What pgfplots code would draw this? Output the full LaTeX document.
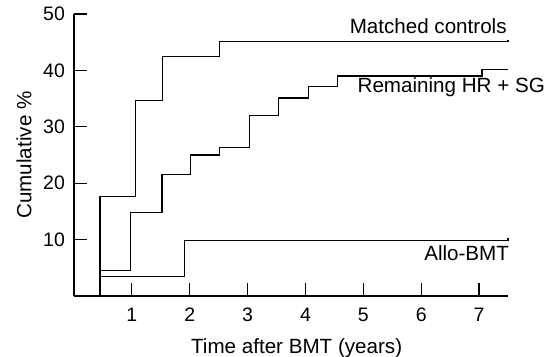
\documentclass[border=0pt]{standalone}
\usepackage{fontspec}
\setmainfont{Liberation Sans}
\usepackage{pgfplots}
\pgfplotsset{compat=1.18}
\begin{document}
\fontsize{20.6bp}{24bp}\selectfont
\begin{tikzpicture}
\useasboundingbox (-74bp,-61bp) rectangle (471bp,296bp);
\begin{axis}[
  at={(0,0)}, anchor=south west,
  scale only axis, width=434bp, height=282bp,
  xmin=0, xmax=7.5, ymin=0, ymax=50,
  axis x line=bottom, axis y line=left,
  axis line style={-, line width=1.3bp},
  tick align=inside, major tick length=13bp,
  tick style={line width=1.2bp, black},
  xtick={1,2,3,4,5,6,7}, ytick={10,20,30,40,50},
  /pgf/number format/assume math mode=true,
  tick label style={font=\fontsize{19.5bp}{22bp}\selectfont},
  xticklabel style={yshift=-5bp},
  yticklabel style={xshift=-2bp},
  xlabel={Time after BMT (years)},
  ylabel={Cumulative \%},
  xlabel style={at={(rel axis cs:0.513,0)}, anchor=center, yshift=-52bp},
  ylabel style={at={(rel axis cs:0,0.5)}, anchor=center, yshift=50bp},
  clip=false,
]
\addplot[const plot, black, line width=1.1bp] coordinates {
  (0.45,0) (0.45,17.7) (1.07,34.7) (1.53,42.5) (2.52,45.2) (7.5,45.4)};
\addplot[const plot, black, line width=1.1bp] coordinates {
  (0.45,0) (0.45,4.5) (0.98,14.8) (1.52,21.5) (2.01,25.0) (2.52,26.4)
  (3.03,32.0) (3.53,35.1) (4.06,37.2) (4.55,39.0) (7.05,40.2) (7.5,40.2)};
\addplot[const plot, black, line width=1.1bp] coordinates {
  (0.45,0) (0.45,3.4) (1.91,9.9) (7.5,10.2)};
\node[anchor=base east, inner sep=0] at (axis cs:7.48,46.6) {Matched controls};
\node[anchor=base east, inner sep=0] at (axis cs:8.14,36.0) {Remaining HR + SG};
\node[anchor=base east, inner sep=0] at (axis cs:7.52,6.26) {Allo-BMT};
\end{axis}
\end{tikzpicture}
\end{document}
